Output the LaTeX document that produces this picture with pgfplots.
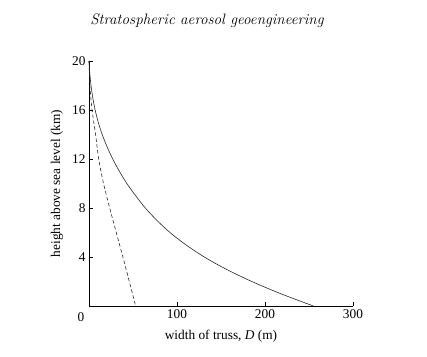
\documentclass[border=0pt]{standalone}
\usepackage{fontspec}
\usepackage{pgfplots}
\pgfplotsset{compat=1.18}
\newfontfamily\tnr{Liberation Serif}
\begin{document}
\begin{tikzpicture}
\useasboundingbox (0,0) rectangle (427bp,357bp);
\node[font=\fontsize{15.2}{18}\selectfont\itshape] at (207bp,336.5bp) {Stratospheric aerosol geoengineering};
\node[font=\fontsize{13.4}{16}\selectfont\tnr, rotate=90] at (57bp,173.5bp) {height above sea level (km)};
\node[font=\fontsize{13.4}{16}\selectfont\tnr] at (221bp,21bp) {width of truss, \textit{D} (m)};
\begin{axis}[
  at={(89bp,51bp)}, anchor=south west,
  width=264bp, height=245bp, scale only axis,
  xmin=0, xmax=300, ymin=0, ymax=20,
  axis lines=left, axis line style={-, line width=0.8pt},
  xtick={100,200,300}, ytick={4,8,12,16,20},
  tick align=inside, major tick length=3.5bp,
  tick style={line width=0.6pt, black},
  tick label style={font=\fontsize{13.4}{16}\selectfont\tnr},
  /pgf/number format/assume math mode=true,
  clip=false,
]
\addplot[black!85, line width=0.6pt, smooth] coordinates {
(0,20) (0.9,19) (2.3,18) (4.3,17) (7,16) (10.5,15) (15,14) (20.5,13) (27,12) (34.5,11)
(43,10) (53,9) (64,8) (77,7) (92,6) (110,5) (131,4) (156,3) (185,2) (218,1) (255,0)
};
\addplot[black!85, line width=0.6pt, dash pattern=on 3.5pt off 2.5pt, smooth] coordinates {
(0,20) (1,18) (3.5,16) (7.5,14) (11,12) (16.5,10) (23.5,8) (31,6) (38.5,4) (45.8,2) (53,0)
};
\node[font=\fontsize{13.4}{16}\selectfont\tnr] at (axis cs:0,0) [xshift=-8bp, yshift=-11bp] {0};
\end{axis}
\end{tikzpicture}
\end{document}
